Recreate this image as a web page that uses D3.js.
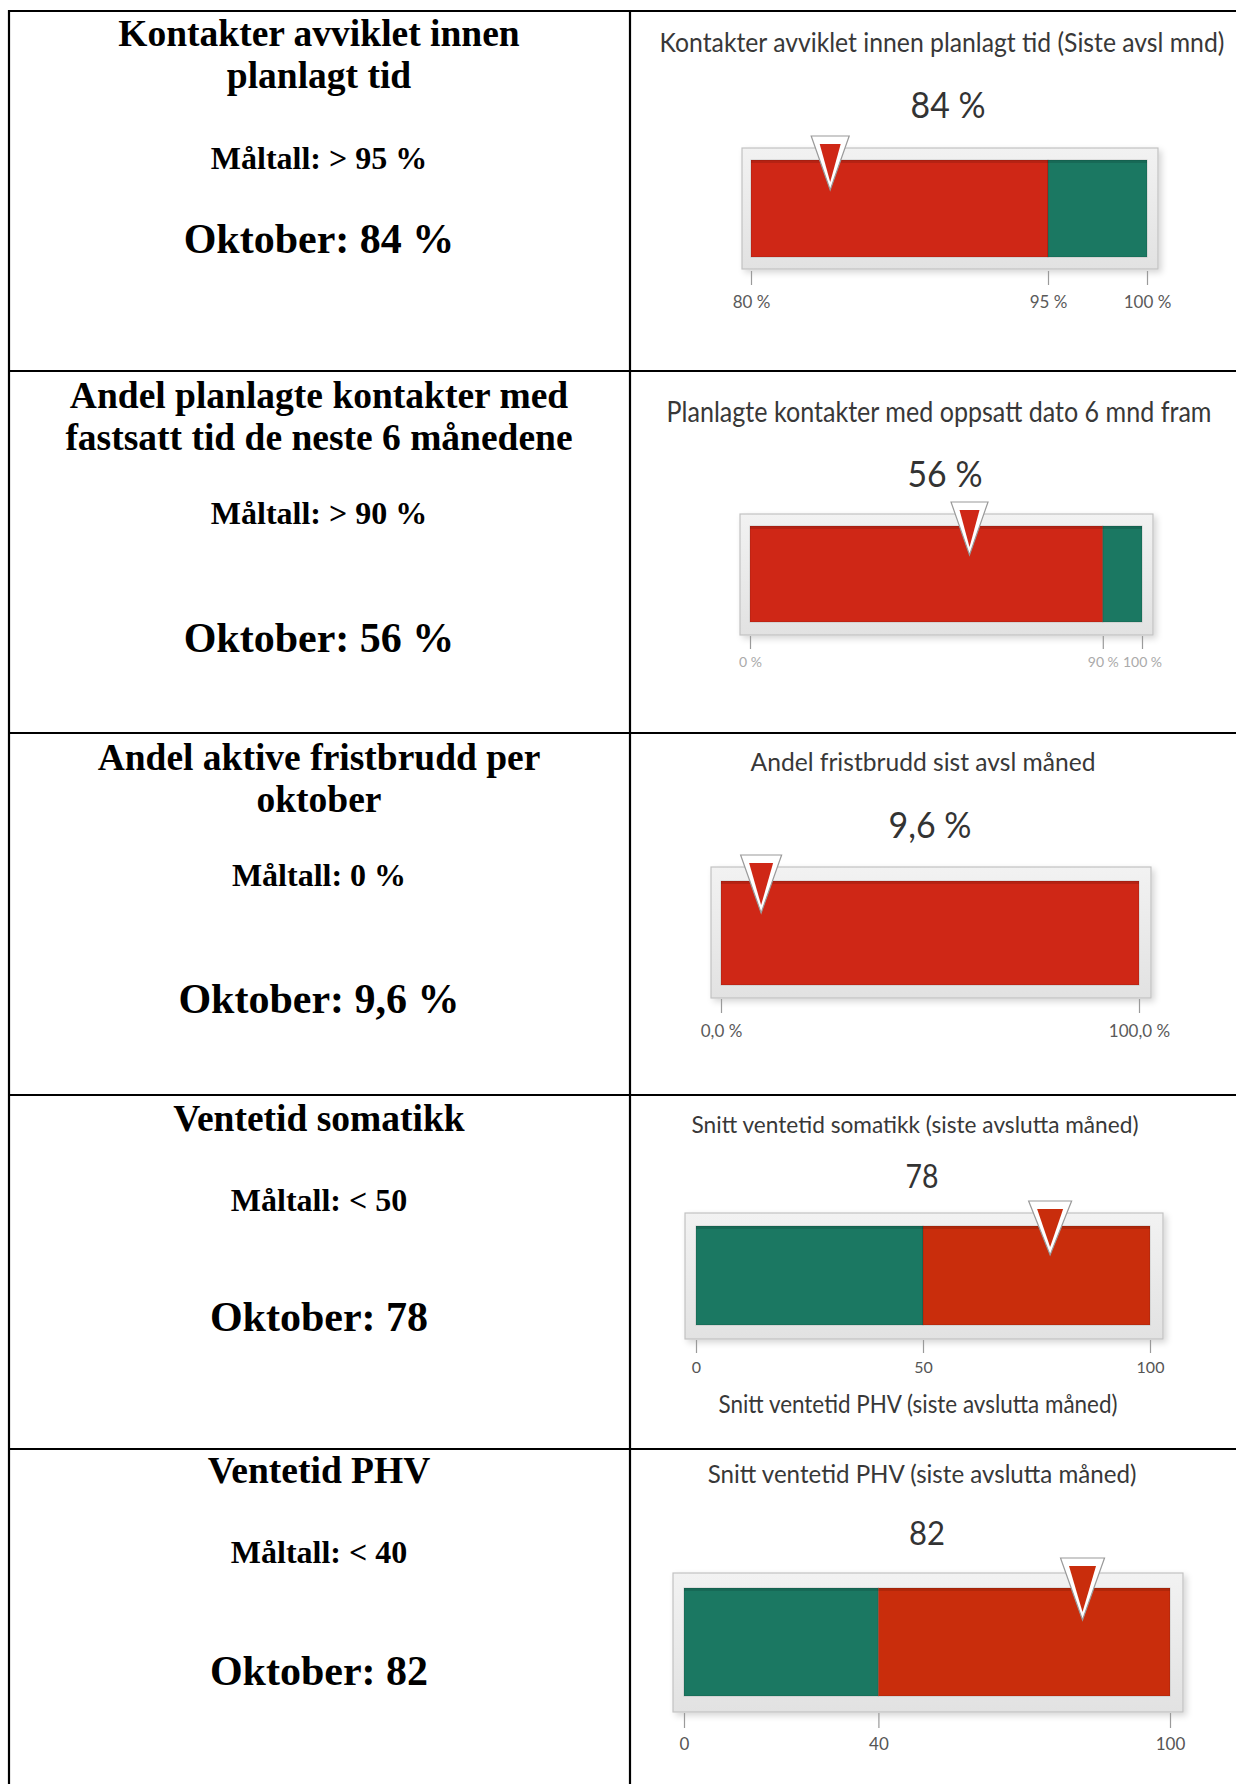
<!DOCTYPE html>
<html><head><meta charset="utf-8">
<script src="https://cdn.jsdelivr.net/npm/d3@7"></script>
<style>html,body{margin:0;padding:0;background:#fff;}svg{display:block;}</style>
</head><body>
<svg id="chart" width="1236" height="1784"></svg>
<script>
// ---------- DATA ----------
const leftTitles = [
  ["Kontakter avviklet innen", "planlagt tid"],
  ["Andel planlagte kontakter med", "fastsatt tid de neste 6 månedene"],
  ["Andel aktive fristbrudd per", "oktober"],
  ["Ventetid somatikk"],
  ["Ventetid PHV"]
];
const targetLabels = ["Måltall: > 95 %", "Måltall: > 90 %", "Måltall: 0 %", "Måltall: < 50", "Måltall: < 40"];
const monthLabels = ["Oktober: 84 %", "Oktober: 56 %", "Oktober: 9,6 %", "Oktober: 78", "Oktober: 82"];
const gaugeTitles = [
  "Kontakter avviklet innen planlagt tid (Siste avsl mnd)",
  "Planlagte kontakter med oppsatt dato 6 mnd fram",
  "Andel fristbrudd sist avsl måned",
  "Snitt ventetid somatikk (siste avslutta måned)",
  "Snitt ventetid PHV (siste avslutta måned)"
];
const gaugeValues = [84, 56, 9.6, 78, 82];
const valueLabels = ["84 %", "56 %", "9,6 %", "78", "82"];
const scaleDomains = [[80, 100], [0, 100], [0, 100], [0, 100], [0, 100]];
const bands = [
  [[80, 95, "bad"], [95, 100, "good"]],
  [[0, 90, "bad"], [90, 100, "good"]],
  [[0, 100, "bad"]],
  [[0, 50, "good"], [50, 100, "bad"]],
  [[0, 40, "good"], [40, 100, "bad"]]
];
const tickValues = [[80, 95, 100], [0, 90, 100], [0, 100], [0, 50, 100], [0, 40, 100]];
const tickLabels = [["80 %", "95 %", "100 %"], ["0 %", "90 %", "100 %"], ["0,0 %", "100,0 %"], ["0", "50", "100"], ["0", "40", "100"]];
const extraCaptions = [null, null, null, "Snitt ventetid PHV (siste avslutta måned)", null];

// ---------- LAYOUT ----------
const rowLines = [11, 371, 733, 1095, 1449];
const colLines = [9, 630];
const leftCenterX = 319;
const leftLayout = [
  {title: [46, 88], target: 169, month: 253},
  {title: [408, 450], target: 524, month: 652},
  {title: [770, 812], target: 886, month: 1013},
  {title: [1131], target: 1211, month: 1331},
  {title: [1483], target: 1563, month: 1685}
];
const gaugeLayout = [
  {frame: [742, 1158, 148, 269], inner: [751, 1147, 160, 257], titleY: 52, titleX: 942, titleW: 565, titleFs: 26,
   valY: 118, valX: 948, valW: 75, valFs: 36, tick: [271, 285], labY: 308, labFs: 17, labCol: "#5a5a5a", tri: [136, 38, 54],
   badCol: "#cf2716"},
  {frame: [740, 1153, 514, 635], inner: [750, 1142, 526, 622], titleY: 422, titleX: 939, titleW: 545, titleFs: 28,
   valY: 487, valX: 945, valW: 75, valFs: 37, tick: [636, 649], labY: 667, labFs: 14, labCol: "#aaa", tri: [502, 37, 53],
   badCol: "#cf2716"},
  {frame: [711, 1151, 867, 998], inner: [721, 1139, 881, 985], titleY: 771, titleX: 923, titleW: 345, titleFs: 25,
   valY: 838, valX: 930, valW: 83, valFs: 36, tick: [999, 1013], labY: 1037, labFs: 17, labCol: "#5a5a5a", tri: [855, 41, 58],
   badCol: "#cf2716"},
  {frame: [685, 1163, 1213, 1339], inner: [696, 1150, 1226, 1325], titleY: 1133, titleX: 915, titleW: 447, titleFs: 23,
   valY: 1188, valX: 922, valW: 33, valFs: 33, tick: [1340, 1353], labY: 1373, labFs: 16, labCol: "#555", tri: [1201, 43, 54],
   badCol: "#c92d0c", capY: 1413, capX: 918, capW: 399, capFs: 25},
  {frame: [673, 1183, 1573, 1712], inner: [684, 1170, 1588, 1696], titleY: 1483, titleX: 922, titleW: 429, titleFs: 25,
   valY: 1545, valX: 927, valW: 36, valFs: 32, tick: [1713, 1728], labY: 1750, labFs: 17, labCol: "#555", tri: [1558, 44, 62],
   badCol: "#c92d0c"}
];
const goodCol = "#1b7862";
const serif = "'Liberation Serif','Times New Roman',serif";
const sans = "Lato,'Open Sans',sans-serif";

// ---------- DRAW ----------
const W = 1236, H = 1784;
const svg = d3.select("#chart");
const defs = svg.append("defs");
defs.append("filter").attr("id", "shadow").attr("x", "-5%").attr("y", "-10%").attr("width", "115%").attr("height", "130%")
  .append("feDropShadow").attr("dx", 3).attr("dy", 3).attr("stdDeviation", 3)
  .attr("flood-color", "#000").attr("flood-opacity", 0.16);
const grad = defs.append("linearGradient").attr("id", "frameGrad").attr("x1", 0).attr("y1", 0).attr("x2", 0).attr("y2", 1);
grad.append("stop").attr("offset", "0%").attr("stop-color", "#f2f2f2");
grad.append("stop").attr("offset", "100%").attr("stop-color", "#e2e2e2");

svg.append("rect").attr("width", W).attr("height", H).attr("fill", "#fff");

// table grid
const grid = svg.append("g").attr("stroke", "#000").attr("stroke-width", 2.2);
grid.selectAll("line.h").data(rowLines).join("line").attr("class", "h")
  .attr("x1", colLines[0] - 1).attr("x2", W).attr("y1", d => d).attr("y2", d => d);
grid.selectAll("line.v").data(colLines).join("line").attr("class", "v")
  .attr("x1", d => d).attr("x2", d => d).attr("y1", rowLines[0] - 1).attr("y2", H);

// left column
leftLayout.forEach((L, i) => {
  const g = svg.append("g").attr("font-family", serif).attr("font-weight", "bold").attr("fill", "#000").attr("text-anchor", "middle");
  leftTitles[i].forEach((t, j) => {
    g.append("text").attr("x", leftCenterX).attr("y", L.title[j]).attr("font-size", 37.5).text(t);
  });
  g.append("text").attr("x", leftCenterX).attr("y", L.target).attr("font-size", 32).text(targetLabels[i]);
  g.append("text").attr("x", leftCenterX).attr("y", L.month).attr("font-size", 42).text(monthLabels[i]);
});

// horizontally condensed text, scaled to a measured width
function condensedText(g, cx, y, fs, w, fill, str) {
  const t = g.append("text").attr("x", 0).attr("y", 0).attr("text-anchor", "middle")
    .attr("font-family", sans).attr("font-size", fs).attr("fill", fill).text(str);
  const len = t.node().getComputedTextLength();
  const sx = len > 0 ? w / len : 1;
  t.attr("transform", `translate(${cx},${y}) scale(${sx},1)`);
  return t;
}

// gauges
gaugeLayout.forEach((L, i) => {
  const g = svg.append("g");
  const x = d3.scaleLinear().domain(scaleDomains[i]).range([L.inner[0], L.inner[1]]);

  condensedText(g, L.titleX, L.titleY, L.titleFs, L.titleW, "#383838", gaugeTitles[i]);
  condensedText(g, L.valX, L.valY, L.valFs, L.valW, "#333", valueLabels[i]);

  // frame
  g.append("rect").attr("x", L.frame[0]).attr("y", L.frame[2])
    .attr("width", L.frame[1] - L.frame[0]).attr("height", L.frame[3] - L.frame[2])
    .attr("fill", "url(#frameGrad)").attr("stroke", "#c2c2c2").attr("stroke-width", 1.2)
    .attr("filter", "url(#shadow)");

  // bands
  g.selectAll("rect.band").data(bands[i]).join("rect").attr("class", "band")
    .attr("x", d => x(d[0])).attr("width", d => x(d[1]) - x(d[0]))
    .attr("y", L.inner[2]).attr("height", L.inner[3] - L.inner[2])
    .attr("fill", d => d[2] === "good" ? goodCol : L.badCol)
    .attr("stroke", "rgba(0,0,0,0.15)").attr("stroke-width", 1);
  g.selectAll("line.topedge").data(bands[i]).join("line").attr("class", "topedge")
    .attr("x1", d => x(d[0])).attr("x2", d => x(d[1]))
    .attr("y1", L.inner[2] + 1.5).attr("y2", L.inner[2] + 1.5)
    .attr("stroke", "rgba(0,0,0,0.12)").attr("stroke-width", 3);

  // axis
  const axis = d3.axisBottom(x).tickValues(tickValues[i])
    .tickFormat((d, j) => tickLabels[i][j]).tickSize(L.tick[1] - L.tick[0]);
  const ag = g.append("g").attr("transform", `translate(0,${L.tick[0]})`).call(axis);
  ag.select(".domain").remove();
  ag.selectAll(".tick line").attr("stroke", "#9a9a9a").attr("stroke-width", 1.2);
  ag.selectAll(".tick text").attr("y", L.labY - L.tick[0]).attr("dy", 0)
    .attr("font-family", sans).attr("font-size", L.labFs).attr("fill", L.labCol);

  // marker triangle
  const cx = x(gaugeValues[i]);
  const [top, w, h] = L.tri;
  const band = bands[i].find(b => gaugeValues[i] >= b[0] && gaugeValues[i] <= b[1]);
  const line = d3.line();
  g.append("path").attr("d", line([[cx - w / 2, top], [cx + w / 2, top], [cx, top + h]]) + "Z")
    .attr("fill", "#fff").attr("stroke", "#9a9a9a").attr("stroke-width", 1.2).attr("stroke-linejoin", "miter");
  g.append("path").attr("d", line([[cx - w / 2 + 8.5, top + 8], [cx + w / 2 - 8.5, top + 8], [cx, top + h - 8]]) + "Z")
    .attr("fill", band && band[2] === "good" ? goodCol : L.badCol);

  if (extraCaptions[i]) {
    condensedText(g, L.capX, L.capY, L.capFs, L.capW, "#383838", extraCaptions[i]);
  }
});
</script>
</body></html>
